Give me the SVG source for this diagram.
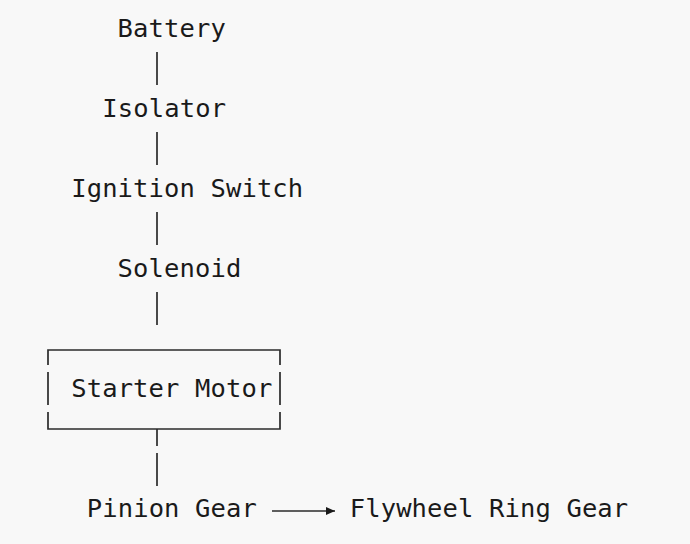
<svg xmlns="http://www.w3.org/2000/svg" width="690" height="544" viewBox="0 0 690 544">
  <defs>
    <style>
      .t { font-family: "DejaVu Sans Mono", "Liberation Mono", monospace; font-size: 25.5px; fill: #1a1a1a; }
      .c { stroke: #2b2b2b; stroke-width: 1.7; fill: none; }
      .b { stroke: #2b2b2b; stroke-width: 1.7; fill: none; }
    </style>
    <marker id="ah" markerWidth="10" markerHeight="9" refX="9" refY="4" orient="auto" markerUnits="userSpaceOnUse">
      <path d="M0,0 L9,4 L0,8 Z" fill="#1a1a1a"/>
    </marker>
  </defs>
  <rect x="0" y="0" width="690" height="544" fill="#f8f8f8"/>

  <g id="battery"><text class="t" x="117.6" y="37" textLength="108.3" lengthAdjust="spacing">Battery</text></g>
  <g id="isolator"><text class="t" x="102.2" y="117" textLength="123.8" lengthAdjust="spacing">Isolator</text></g>
  <g id="ignition-switch"><text class="t" x="71.2" y="197" textLength="232" lengthAdjust="spacing">Ignition Switch</text></g>
  <g id="solenoid"><text class="t" x="117.6" y="277" textLength="123.8" lengthAdjust="spacing">Solenoid</text></g>
  <g id="starter-motor">
    <path class="b" d="M48,365 V350 H280 V365 M48,372 V405 M280,372 V405 M48,412 V429 H280 V412"/>
    <text class="t" x="71.2" y="397" textLength="201.1" lengthAdjust="spacing">Starter Motor</text>
  </g>
  <g id="pinion-gear"><text class="t" x="86.7" y="517" textLength="170.2" lengthAdjust="spacing">Pinion Gear</text></g>
  <g id="flywheel-ring-gear"><text class="t" x="349.7" y="517" textLength="278.5" lengthAdjust="spacing">Flywheel Ring Gear</text></g>

  <g id="connectors">
    <line class="c" x1="157" y1="52" x2="157" y2="85"/>
    <line class="c" x1="157" y1="132" x2="157" y2="165"/>
    <line class="c" x1="157" y1="212" x2="157" y2="245"/>
    <line class="c" x1="157" y1="292" x2="157" y2="325"/>
    <line class="c" x1="157" y1="429" x2="157" y2="446"/>
    <line class="c" x1="157" y1="453" x2="157" y2="486"/>
    <line class="c" x1="272" y1="511" x2="335" y2="511" stroke-width="2.2" marker-end="url(#ah)"/>
  </g>
</svg>
